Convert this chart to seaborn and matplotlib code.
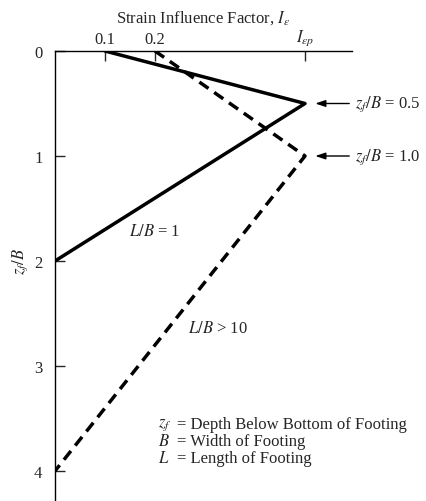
import matplotlib
matplotlib.use("Agg")
import matplotlib.pyplot as plt
import seaborn as sns
import pandas as pd

# Data
solid_x = [0.1, 0.5, 0.0]   # L/B = 1
solid_z = [0.0, 0.5, 2.0]
dashed_x = [0.2, 0.5, 0.0]  # L/B > 10
dashed_z = [0.0, 1.0, 4.0]
x_ticks = [0.1, 0.2, 0.5]
x_ticklabels = ["0.1", "0.2", r"$I_{\epsilon p}$"]
y_ticks = [0, 1, 2, 3, 4]
y_ticklabels = ["0", "1", "2", "3", "4"]
peak_labels = [(0.5, r"$z_f/B$ = 0.5"), (1.0, r"$z_f/B$ = 1.0")]
legend_syms = [r"$z_f$", r"$B$", r"$L$"]
legend_defs = ["= Depth Below Bottom of Footing",
               "= Width of Footing",
               "= Length of Footing"]

FS = 12

sns.set_style("white")
plt.rcParams["font.family"] = ["Liberation Serif", "DejaVu Serif"]
plt.rcParams["mathtext.fontset"] = "stix"

fig = plt.figure(figsize=(4.27, 5.02), dpi=100)
ax = fig.add_axes([55 / 427, 0.0, (352 - 55) / 427, (502 - 52) / 502])

df_s = pd.DataFrame({"x": solid_x, "z": solid_z})
df_d = pd.DataFrame({"x": dashed_x, "z": dashed_z})
sns.lineplot(data=df_s, x="x", y="z", sort=False, ax=ax, color="black", lw=2.5)
sns.lineplot(data=df_d, x="x", y="z", sort=False, ax=ax, color="black", lw=2.5,
             linestyle=(0, (3.2, 2.0)))

ax.set_xlim(0, 0.594)
ax.set_ylim((502 - 52) / 105, 0)

for s in ["right", "bottom"]:
    ax.spines[s].set_visible(False)
for s in ["top", "left"]:
    ax.spines[s].set_color("black")
    ax.spines[s].set_linewidth(1.0)

ax.xaxis.tick_top()
ax.xaxis.set_label_position("top")
ax.set_xticks(x_ticks)
ax.set_xticklabels(x_ticklabels, fontsize=FS)
ax.set_yticks(y_ticks)
ax.set_yticklabels(y_ticklabels, fontsize=FS)
ax.tick_params(axis="x", direction="in", length=7, width=1, pad=3, top=True, bottom=False)
ax.tick_params(axis="y", direction="in", length=7, width=1, pad=9, left=True)
ax.set_xlabel(r"Strain Influence Factor, $I_\epsilon$", fontsize=FS, labelpad=4)
ax.set_ylabel(r"$z_f/B$", fontsize=FS)
ax.yaxis.set_label_coords(-0.085, 1 - 2.0 / ((502 - 52) / 105))

for z, txt in peak_labels:
    ax.annotate("", xy=(0.515, z), xytext=(0.594, z),
                arrowprops=dict(arrowstyle="-|>,head_length=0.6,head_width=0.2",
                                color="black", lw=1.0), annotation_clip=False)
    ax.text(0.6, z, txt, fontsize=FS, ha="left", va="center", clip_on=False)

ax.text(0.20, 1.71, r"$L/B$ = 1", fontsize=FS, ha="center", va="center")
ax.text(0.326, 2.64, r"$L/B$ > 10", fontsize=FS, ha="center", va="center")

ax.text(0.206, 3.48, "\n".join(legend_syms), fontsize=FS, ha="left", va="top",
        linespacing=1.08)
ax.text(0.244, 3.48, "\n".join(legend_defs), fontsize=FS, ha="left", va="top",
        linespacing=1.08)

fig.savefig("out.png", dpi=100)
